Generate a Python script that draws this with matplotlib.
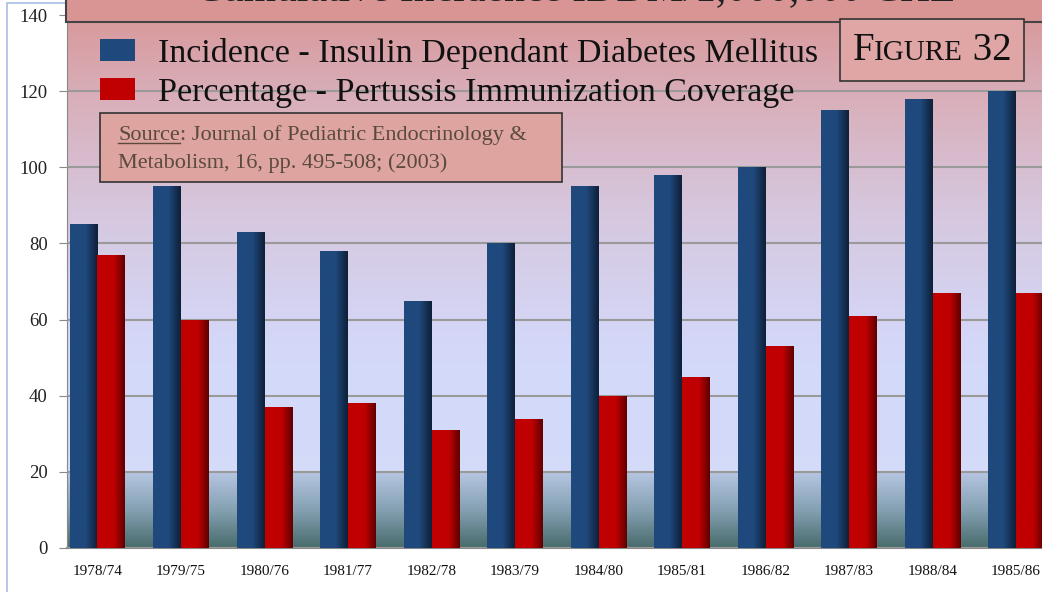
import numpy as np
import matplotlib
matplotlib.use("Agg")
import matplotlib.pyplot as plt
from matplotlib.colors import LinearSegmentedColormap
from matplotlib.patches import Rectangle
from matplotlib.offsetbox import TextArea, HPacker, AnchoredOffsetbox

# data
periods = ["1978/74", "1979/75", "1980/76", "1981/77", "1982/78", "1983/79",
           "1984/80", "1985/81", "1986/82", "1987/83", "1988/84", "1985/86"]
incidence = [85, 95, 83, 78, 65, 80, 95, 98, 100, 115, 118, 120]
pertussis = [77, 60, 37, 38, 31, 34, 40, 45, 53, 61, 67, 67]

serif = "Liberation Serif"
plt.rcParams["font.family"] = [serif, "DejaVu Serif"]

fig = plt.figure(figsize=(10.42, 5.92), dpi=100)
W, H = 1042, 592
ax = fig.add_axes([67 / W, 1 - 548 / H, 1 - 67 / W, (548 - 15) / H])

x = np.arange(len(periods))
bw = 0.335
xmin, xmax = -0.365, 11.31

# background gradient (top pink -> lavender -> light blue, then teal band under 20)
upper = LinearSegmentedColormap.from_list("up", [
    (0.0, (0.83, 0.86, 0.98)),
    (0.25, (0.83, 0.85, 0.98)),
    (0.55, (0.84, 0.78, 0.87)),
    (0.8, (0.85, 0.68, 0.72)),
    (1.0, (0.85, 0.58, 0.58))])
lower = LinearSegmentedColormap.from_list("lo", [
    (0.0, (0.28, 0.42, 0.42)),
    (0.5, (0.52, 0.63, 0.70)),
    (1.0, (0.72, 0.78, 0.89))])
g = np.linspace(0, 1, 256).reshape(-1, 1)
ax.imshow(g, cmap=upper, origin="lower", aspect="auto",
          extent=[xmin, xmax, 20, 145], zorder=0)
ax.imshow(g, cmap=lower, origin="lower", aspect="auto",
          extent=[xmin, xmax, 0, 20], zorder=0)

ax.set_yticks(range(0, 141, 20))
ax.yaxis.grid(True, color="#9a9a9a", lw=1.5, zorder=1)
ax.set_axisbelow(False)

blue_cm = LinearSegmentedColormap.from_list("b", [(0, "#1f497d"), (0.55, "#1f497d"), (1, "#0f1f38")])
red_cm = LinearSegmentedColormap.from_list("r", [(0, "#c00000"), (0.6, "#c00000"), (1, "#600000")])
hg = np.linspace(0, 1, 64).reshape(1, -1)

b1 = ax.bar(x - bw / 2, incidence, bw, color="#1f497d", zorder=2,
            label="Incidence - Insulin Dependant Diabetes Mellitus")
b2 = ax.bar(x + bw / 2, pertussis, bw, color="#c00000", zorder=2,
            label="Percentage - Pertussis Immunization Coverage")
for bars, cm in ((b1, blue_cm), (b2, red_cm)):
    for p in bars:
        x0, y0 = p.get_x(), p.get_y()
        im = ax.imshow(hg, cmap=cm, aspect="auto", zorder=3,
                       extent=[x0, x0 + p.get_width(), y0, y0 + p.get_height()])
        im.set_clip_path(p)
ax.set_xlim(xmin, xmax)
ax.set_ylim(0, 140)

ax.set_xticks(x)
ax.set_xticklabels(periods, fontsize=11, color="#111111")
ax.tick_params(axis="x", length=0, pad=12)
ax.tick_params(axis="y", length=6, color="#888888", labelsize=13.5,
               labelcolor="#222222", pad=8)
for s in ("top", "right"):
    ax.spines[s].set_visible(False)
ax.spines["left"].set_color("#888888")
ax.spines["bottom"].set_color("#888888")
ax.spines["bottom"].set_linewidth(1.5)

leg = ax.legend(loc="upper left", bbox_to_anchor=(100 / W, 1 - 38 / H),
                bbox_transform=fig.transFigure, frameon=False, fontsize=24.5,
                handlelength=1.03, handleheight=0.62, handletextpad=0.68,
                labelspacing=0.26, borderaxespad=0, borderpad=0)
for t in leg.get_texts():
    t.set_color("#111111")

# outer chart frame
fig.patches.append(Rectangle((7 / W, -0.1), 1.2, 1 - 3 / H + 0.1,
                             transform=fig.transFigure, fill=False,
                             ec="#a8bfe3", lw=1.2, zorder=0))

# title box (cut off at top, as in the source slide)
fig.patches.append(Rectangle((66 / W, 1 - 22 / H), 1.0, 0.2,
                             transform=fig.transFigure, fc="#d99494",
                             ec="#444444", lw=1.5, zorder=5))
fig.text(575 / W, 1.0, "Cumulative Incidence IDDM/1,000,000 CHL",
         fontsize=30, ha="center", va="baseline", color="#222222", zorder=6)

# source box
fig.patches.append(Rectangle((100 / W, 1 - 182 / H), 462 / W, 69 / H,
                             transform=fig.transFigure, fc="#dea49f",
                             ec="#333333", lw=1.2, zorder=5))
src_kw = dict(fontsize=16, color="#5a4a3c", va="baseline", ha="left", zorder=6)
src = fig.text(118 / W, 1 - 140 / H, "Source", **src_kw)
fig.canvas.draw()
bb = src.get_window_extent()
fig.text(bb.x1 / W, 1 - 140 / H, ": Journal of Pediatric Endocrinology &", **src_kw)
fig.text(118 / W, 1 - 168 / H, "Metabolism, 16, pp. 495-508; (2003)", **src_kw)
fig.add_artist(plt.Line2D([bb.x0 / W, bb.x1 / W], [(H - 143) / H] * 2,
                          transform=fig.transFigure, color="#5a4a3c", lw=1,
                          zorder=6))

# FIGURE 32 small caps box
kw = dict(color="#111111", family=serif)
parts = [TextArea("F", textprops=dict(fontsize=28, **kw)),
         TextArea("IGURE", textprops=dict(fontsize=21, **kw)),
         TextArea(" 32", textprops=dict(fontsize=28, **kw))]
pack = HPacker(children=parts, align="baseline", pad=0, sep=0)
abox = AnchoredOffsetbox(loc="center", child=pack, frameon=True,
                         bbox_to_anchor=(932 / W, 1 - 50 / H),
                         bbox_transform=fig.transFigure, pad=0.45, borderpad=0)
abox.patch.set_facecolor("#e0a6a6")
abox.patch.set_edgecolor("#333333")
abox.patch.set_linewidth(1.2)
abox.patch.set_boxstyle("square", pad=0.45)
abox.set_zorder(6)
fig.add_artist(abox)

fig.savefig("out.png", dpi=100)
